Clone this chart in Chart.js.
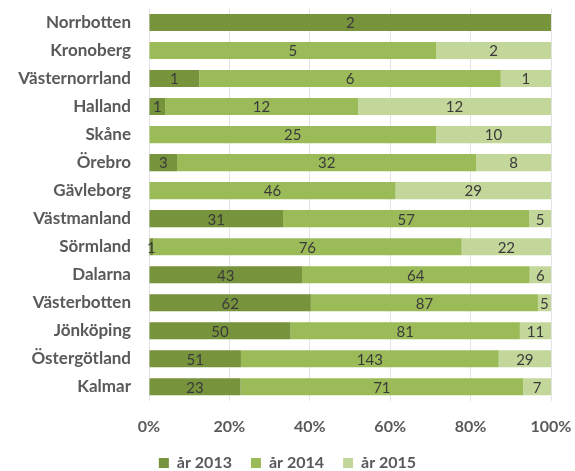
<!DOCTYPE html>
<html>
<head>
<meta charset="utf-8">
<script src="https://cdn.jsdelivr.net/npm/chart.js@4"></script>
<style>
  html, body { margin: 0; padding: 0; background: #ffffff; }
  #wrap { width: 575px; height: 471px; }
</style>
</head>
<body>
<div id="wrap"><canvas id="c" width="575" height="471"></canvas></div>
<script>
// Counts per county and year
const categories = ['Norrbotten','Kronoberg','Västernorrland','Halland','Skåne','Örebro','Gävleborg','Västmanland','Sörmland','Dalarna','Västerbotten','Jönköping','Östergötland','Kalmar'];
const year2013 = [2, 0, 1, 1, 0, 3, 0, 31, 1, 43, 62, 50, 51, 23];
const year2014 = [0, 5, 6, 12, 25, 32, 46, 57, 76, 64, 87, 81, 143, 71];
const year2015 = [0, 2, 1, 12, 10, 8, 29, 5, 22, 6, 5, 11, 29, 7];
const seriesNames = ['år 2013', 'år 2014', 'år 2015'];
const tickLabels = ['0%', '20%', '40%', '60%', '80%', '100%'];

const totals = categories.map((_, i) => year2013[i] + year2014[i] + year2015[i]);
const share = arr => arr.map((v, i) => v / totals[i] * 100);

const counts = [year2013, year2014, year2015];
const colors = ['#77933c', '#9bbb59', '#c4d79b'];
const FONT = 'Lato, "Open Sans", sans-serif';

// Writes each segment's count in the middle of its bar piece
const segmentLabels = {
  id: 'segmentLabels',
  afterDatasetsDraw(chart) {
    const ctx = chart.ctx;
    ctx.save();
    ctx.font = '15px ' + FONT;
    ctx.fillStyle = '#3a3a3a';
    ctx.textAlign = 'center';
    ctx.textBaseline = 'middle';
    chart.data.datasets.forEach((ds, di) => {
      const meta = chart.getDatasetMeta(di);
      meta.data.forEach((bar, i) => {
        const n = counts[di][i];
        if (!n) return;
        const { x, base, y } = bar.getProps(['x', 'base', 'y'], true);
        ctx.fillText(String(n), (x + base) / 2, y + 1);
      });
    });
    ctx.restore();
  }
};

new Chart(document.getElementById('c'), {
  type: 'bar',
  data: {
    labels: categories,
    datasets: counts.map((arr, k) => ({
      label: seriesNames[k],
      data: share(arr),
      backgroundColor: colors[k],
      borderWidth: 0,
      categoryPercentage: 1.0,
      barPercentage: 0.61
    }))
  },
  options: {
    indexAxis: 'y',
    responsive: false,
    animation: false,
    layout: { padding: { top: 0, right: 0, left: 0, bottom: -10 } },
    scales: {
      x: {
        stacked: true,
        min: 0,
        max: 100,
        afterFit: s => { s.paddingRight = 24; },
        ticks: {
          stepSize: 20,
          padding: 0,
          color: '#595959',
          font: { family: FONT, size: 16, weight: 'bold' },
          callback: (v, idx) => tickLabels[idx]
        },
        grid: { color: '#e3e3e3', drawTicks: true, tickLength: 16, tickColor: 'rgba(0,0,0,0)' },
        border: { display: false }
      },
      y: {
        stacked: true,
        afterFit: s => { s.width = 149; },
        ticks: {
          padding: 0,
          color: '#595959',
          font: { family: FONT, size: 17, weight: 'bold', lineHeight: 1 }
        },
        grid: { display: true, drawOnChartArea: false, drawTicks: true, tickLength: 18, color: 'rgba(0,0,0,0)', tickColor: 'rgba(0,0,0,0)' },
        border: { display: false }
      }
    },
    plugins: {
      legend: {
        position: 'bottom',
        labels: {
          boxWidth: 10,
          boxHeight: 10,
          padding: 19,
          color: '#595959',
          font: { family: FONT, size: 16, weight: 'bold' }
        }
      },
      tooltip: { enabled: false }
    }
  },
  plugins: [segmentLabels]
});
</script>
</body>
</html>
